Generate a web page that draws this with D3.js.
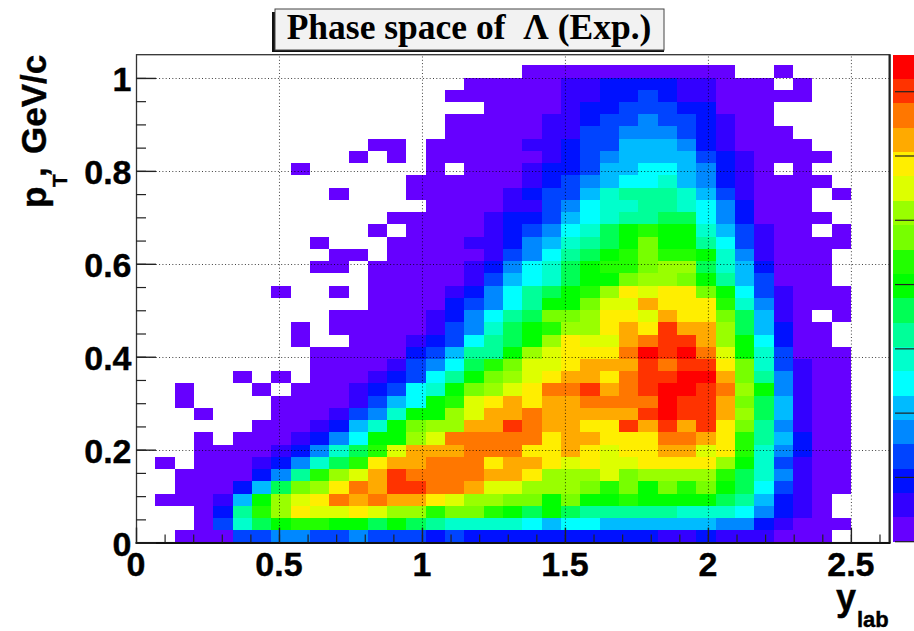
<!DOCTYPE html>
<html><head><meta charset="utf-8">
<script src="https://cdn.jsdelivr.net/npm/d3@7/dist/d3.min.js"></script>
<style>html,body{margin:0;padding:0;background:#fff;overflow:hidden}svg{display:block}text{fill:#000}</style>
</head><body><svg id="c" width="914" height="631"></svg>
<script>
const titleText = "Phase space of  Λ (Exp.)";
const xLabel = "y", xLabelSub = "lab";
const yLabel = "p", yLabelSub = "T", yLabelComma = ",", yLabelRest = "GeV/c";
const xTicks = [0, 0.5, 1, 1.5, 2, 2.5];
const yTicks = [0, 0.2, 0.4, 0.6, 0.8, 1];
const xMax = 2.635, yMax = 1.05, nCols = 39, rowHeightValue = 0.02634;
const palette = ["#6600ff","#3300ff","#0011ff","#0044ff","#0088ff","#00bbff","#00ffff","#00ffcc","#00ff99","#00ff55","#00ff00","#22ff00","#77ff00","#99ff00","#ddff00","#ffee00","#ffaa00","#ff7700","#ff3300","#ff0000"];
const paletteTicks = [0, 2.64, 5.28, 7.92, 10.56, 13.2, 15.84, 18.48];
// level per bin, row 0 at pT = 0; "col:levels" with 1-9 then a=10 ... k=20
const rows = [
"2:1114455445444343333333333223222111",
"3:148abccbbaba9888876776666665532111",
"3:139cegffgfeecddcbaba9999988875321",
"1:11126befgihihhgfeeddbdbbcbbbba96321",
"2:11136adegihjjiihffeeedcdbdcdba74211",
"2:1111359cefhjiiiihhgeeefdeeeeca85211",
"1:1 3:1112358acghhiiighhgfgffggggeb84211",
"3:11112358acfhhhiiigghgfgghhfgc85311",
"3:1 5:1112357bbefiiiiighhgggiihgc96311",
"6:1112368bdeehhjihhggjhjhjgd95211",
"3:1 7:1112458bbefhhihhhhhjkjjhea6211",
"2:1 7:11112467bcfghghhiiiikjjhda6211",
"2:1 6:1 8:11123478bdefgiijhijkkjieb5211",
"5:1 7:1 9:11123479bdefghhgijjkkhd95211",
"9:11112457acdffghhhjijjgd84211",
"9:1111134699befgggikjkifb84111",
"8:1 11:11123479abegffhijjheb7311",
"8:1 10:111112458abceeghgjhhea6311",
"10:1111123579addeggfhggda621 36:1",
"12:111134579bbdffhgggc852111",
"7:1 10:1 12:111123579abcegfggdb742111",
"12:1111124678abbdeedb964111",
"9:11 12:1111123578abccdeea863111",
"10:11 13:1111124579abcdccb852111",
"9:1 13:11112235689abdbb97421111",
"12:1 14:1111234578abcbb864211 36:1",
"13:11111233467899aa7531111",
"15:11112245788998753111",
"10:1 14:111112344689998642111 36:1",
"14:1111112345677865321111",
"8:1 15:1 17:1112334667765321 34:1",
"11:1 13:1 15:111111234566664321111",
"12:11 15:11111223446665321111",
"16:111112244555432111",
"16:11111223445443211",
"18:111123344433111",
"16:1111112233432211111",
"17:1111122333322111 34:1",
"20:11111111111 33:1"
];

const L=136, R=889.5, T=54.7, B=542.6;
const svg=d3.select("#c");
const x=d3.scaleLinear().domain([0,xMax]).range([L,R]);
const y=d3.scaleLinear().domain([0,yMax]).range([B,T]);
const binW=xMax/nCols;
const color=d3.scaleOrdinal().domain(d3.range(1,palette.length+1)).range(palette);
const cells=[];
rows.forEach((s,r)=>s.split(" ").forEach(seg=>{
  const [c,lv]=seg.split(":");
  [...lv].forEach((ch,i)=>cells.push({c:+c+i,r,l:parseInt(ch,36)}));
}));
svg.append("g").selectAll("rect").data(cells).join("rect")
  .attr("x",d=>x(d.c*binW)).attr("width",d=>x((d.c+1)*binW)-x(d.c*binW))
  .attr("y",d=>y((d.r+1)*rowHeightValue)).attr("height",d=>y(d.r*rowHeightValue)-y((d.r+1)*rowHeightValue))
  .attr("fill",d=>color(d.l)).attr("shape-rendering","crispEdges");

// grid
const grid=svg.append("g").attr("stroke","#000").attr("stroke-width",1).attr("stroke-dasharray","1,2.3").attr("stroke-opacity",.75);
grid.selectAll(".gx").data(xTicks.slice(1)).join("line").attr("x1",d=>x(d)+.5).attr("x2",d=>x(d)+.5).attr("y1",B).attr("y2",T);
grid.selectAll(".gy").data(yTicks.slice(1)).join("line").attr("y1",d=>Math.round(y(d))+.5).attr("y2",d=>Math.round(y(d))+.5).attr("x1",L).attr("x2",R);

// frame
svg.append("rect").attr("x",L+.5).attr("y",T).attr("width",R-L).attr("height",B-T).attr("fill","none").attr("stroke","#333").attr("stroke-width",1.3);
svg.append("line").attr("x1",R).attr("x2",R).attr("y1",T).attr("y2",B).attr("stroke","#222").attr("stroke-width",2);
svg.append("line").attr("x1",L-.5).attr("x2",R+1).attr("y1",B+.3).attr("y2",B+.3).attr("stroke","#111").attr("stroke-width",2);

// axes through d3-axis
const fs="'Liberation Sans',Arial,sans-serif";
const ax=svg.append("g").attr("transform",`translate(0,${B})`)
  .call(d3.axisTop(x).tickValues(d3.range(1,27).map(d=>d/10)).tickSize(8).tickFormat(""));
ax.select(".domain").remove();
ax.selectAll("line").attr("stroke","#222").attr("stroke-width",1.2);
svg.append("g").attr("transform",`translate(0,${B})`)
  .call(d3.axisTop(x).tickValues(xTicks).tickSize(15).tickFormat(""))
  .call(g=>g.select(".domain").remove()).selectAll("line").attr("stroke","#222").attr("stroke-width",1.4);
const ay=svg.append("g").attr("transform",`translate(${L},0)`)
  .call(d3.axisRight(y).tickValues(d3.range(1,21).map(d=>d*0.05)).tickSize(10).tickFormat(""));
ay.select(".domain").remove();
ay.selectAll("line").attr("stroke","#222").attr("stroke-width",1.2);
svg.append("g").attr("transform",`translate(${L},0)`)
  .call(d3.axisRight(y).tickValues(yTicks).tickSize(20).tickFormat(""))
  .call(g=>g.select(".domain").remove()).selectAll("line").attr("stroke","#222").attr("stroke-width",1.4);

// tick labels
const heavy=s=>s.attr("font-family",fs).attr("font-weight","bold").attr("stroke","#000").attr("stroke-width",.4);
svg.append("g").call(heavy).selectAll("text").data(xTicks).join("text").attr("x",d=>x(d)).attr("y",576)
  .attr("text-anchor","middle").attr("font-size",34).text(d=>d);
svg.append("g").call(heavy).selectAll("text").data(yTicks).join("text").attr("x",131.5).attr("y",d=>y(d)+13.5)
  .attr("text-anchor","end").attr("font-size",34).text(d=>d);

// axis titles
svg.append("text").call(heavy).attr("x",836).attr("y",610).attr("font-size",36).text(xLabel);
svg.append("text").call(heavy).attr("x",857).attr("y",626.5).attr("font-size",22).text(xLabelSub);
const yTitle=svg.append("g").call(heavy);
yTitle.append("text").attr("transform","translate(46,208) rotate(-90)").attr("font-size",35).text(yLabel);
yTitle.append("text").attr("transform","translate(67,187) rotate(-90)").attr("font-size",21).text(yLabelSub);
yTitle.append("text").attr("transform","translate(46,177) rotate(-90)").attr("font-size",35).text(yLabelComma);
yTitle.append("text").attr("transform","translate(46,154) rotate(-90)").attr("font-size",35).text(yLabelRest);

// palette
const barY=d3.scaleLinear().domain([0,palette.length]).range([541.7,54.7]);
svg.append("g").selectAll("rect").data(palette).join("rect").attr("x",892.5).attr("width",22)
  .attr("y",(d,i)=>barY(i+1)).attr("height",(d,i)=>barY(i)-barY(i+1)).attr("fill",d=>d).attr("shape-rendering","crispEdges");
svg.append("g").selectAll("line").data(paletteTicks).join("line").attr("x1",895).attr("x2",914)
  .attr("y1",d=>barY(d)).attr("y2",d=>barY(d)).attr("stroke","#222").attr("stroke-width",1.2);

// title box
svg.append("rect").attr("x",272).attr("y",12).attr("width",392).attr("height",40).attr("fill","#111");
svg.append("rect").attr("x",275).attr("y",9).attr("width",389).attr("height",41).attr("fill","#f2f2f2").attr("stroke","#444");
svg.append("text").attr("x",469).attr("y",39).attr("text-anchor","middle").attr("xml:space","preserve").attr("font-family","'Liberation Serif',serif").attr("font-weight","bold").attr("font-size",35.5).text(titleText);
</script></body></html>
